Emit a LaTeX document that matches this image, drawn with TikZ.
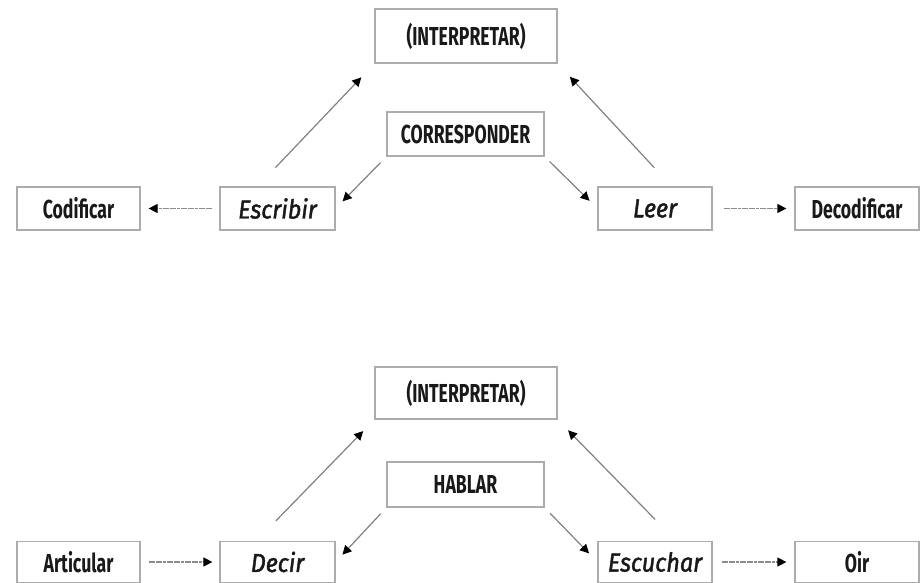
\documentclass[tikz,border=0pt]{standalone}
\usepackage{fontspec}
\setmainfont{Fira Sans}[FakeStretch=0.68, ItalicFeatures={FakeStretch=0.9, FakeBold=1.6}]
\usetikzlibrary{arrows.meta}

\tikzstyle{box}=[draw=gray!65, line width=0.6pt, inner sep=0pt, text=black!90, font=\fontsize{13}{15}\selectfont\bfseries]
\tikzstyle{link} = [draw=gray, line width=0.6pt, -{Triangle[black,length=4.5pt,width=4.5pt]}]
\tikzstyle{flat link} = [link, draw=gray!90, dash pattern=on 1.5pt off 0.3pt]

\begin{document}
\begin{tikzpicture}[x=0.5pt, y=-0.5pt]
	\useasboundingbox (0,0) rectangle (922,583);
	    % lectura y escritura
	    \foreach \pos/\name/\ww/\hh/\txt in {{(466,36)/interp/91pt/27pt/(INTERPRETAR)}, {(465.5,134)/corresp/78.5pt/22pt/CORRESPONDER},
	            {(78.5,208.5)/codificar/61.5pt/21.5pt/Codificar}, {(277.5,208.5)/escribir/57.5pt/21.5pt/{\mdseries\itshape Escribir}},
	            {(655,208.5)/leer/57pt/21.5pt/{\mdseries\itshape Leer}}, {(857,208.5)/decodificar/62pt/21.5pt/Decodificar}}
	        \node[box, minimum width=\ww, minimum height=\hh] (\name) at \pos {\txt};
	    % habla y escucha
	    \foreach \pos/\name/\ww/\hh/\txt in {{(466,393)/interpb/91pt/26pt/(INTERPRETAR)}, {(465.5,484.5)/hablar/78.5pt/22.5pt/HABLAR},
	            {(78.5,562)/articular/61.5pt/20.5pt/Articular}, {(277.5,562)/decir/57.5pt/20.5pt/{\mdseries\itshape Decir}},
	            {(655,562)/escuchar/57pt/20.5pt/{\mdseries\itshape Escuchar}}, {(857,562)/oir/62pt/20.5pt/Oir}}
	        \node[box, minimum width=\ww, minimum height=\hh] (\name) at \pos {\txt};
	    \foreach \source/\dest/\s/\e in {escribir.132/interp.south west/13pt/9.5pt, leer.53/interp.south east/12.7pt/9pt,
	            corresp.south west/escribir.east/4.2pt/5pt, corresp.south east/leer.west/3.5pt/5.5pt,
	            decir.135/interpb.south west/14pt/8pt, escuchar.45/interpb.south east/15pt/7.5pt,
	            hablar.south west/decir.east/4.2pt/5pt, hablar.south east/escuchar.west/4pt/6pt}
			\path[link, shorten <=\s, shorten >=\e] (\source) -- (\dest);
	    \foreach \source/\dest/\s/\e in {escribir.west/codificar.east/3.5pt/4pt, leer.east/decodificar.west/5.5pt/4pt,
	            articular.east/decir.west/4pt/3.5pt, escuchar.east/oir.west/4.5pt/4pt}
			\path[flat link, shorten <=\s, shorten >=\e] (\source) -- (\dest);
	\end{tikzpicture}
\end{document}
